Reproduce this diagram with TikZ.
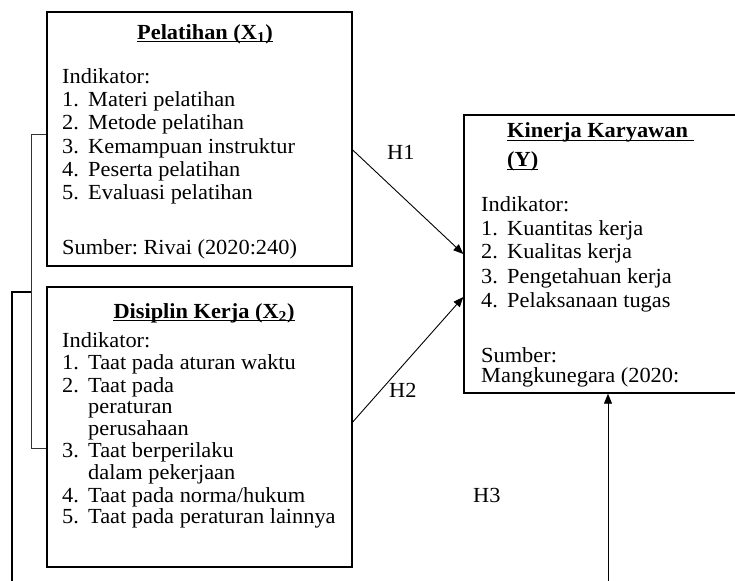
\documentclass[tikz,border=0pt]{standalone}
\usepackage{fontspec}
\setmainfont[FakeStretch=1.04]{Liberation Serif}
\usetikzlibrary{arrows.meta}
\frenchspacing
\begin{document}
\begin{tikzpicture}[x=1bp,y=-1bp,
  box/.style={draw,line width=1.4bp,inner sep=0},
  txt/.style={anchor=base west,inner sep=0,font=\fontsize{21.5bp}{24bp}\selectfont},
  ttl/.style={anchor=base,inner sep=0,font=\fontsize{21.5bp}{24bp}\selectfont\bfseries},
  uline/.style={line width=1bp},
  arr/.style={line width=0.9bp,-{Triangle[length=10bp,width=8bp]}},
  bracket/.style={line width=0.7bp,draw=black!80},
  thickline/.style={line width=1.6bp}]
\useasboundingbox (0,0) rectangle (735,581);
\clip (0,0) rectangle (735,581);

% boxes
\node[box,minimum width=305bp,minimum height=254bp] (x1) at (199.5,139) {};
\node[box,minimum width=305bp,minimum height=280bp] (x2) at (199.5,427) {};
\node[box,minimum width=274bp,minimum height=278bp] (y) at (601,254) {};

% box 1 text
\node[ttl] (t1) at (205,39.5) {Pelatihan (X\textsubscript{1})};
\draw[uline] ([yshift=-2.5bp]t1.base west) -- ([yshift=-2.5bp]t1.base east);
\node[txt] (a0) at (62,83.3) {Indikator:};
\node[txt] (a1n) at (62,106.7) {1.};
\node[txt] (a1) at (88,106.7) {Materi pelatihan};
\node[txt] (a2n) at (62,130) {2.};
\node[txt] (a2) at (88,130) {Metode pelatihan};
\node[txt] (a3n) at (62,153.3) {3.};
\node[txt] (a3) at (88,153.3) {Kemampuan instruktur};
\node[txt] (a4n) at (62,176.7) {4.};
\node[txt] (a4) at (88,176.7) {Peserta pelatihan};
\node[txt] (a5n) at (62,200) {5.};
\node[txt] (a5) at (88,200) {Evaluasi pelatihan};
\node[txt] (as) at (62,254) {Sumber: Rivai (2020:240)};

% box 2 text
\node[ttl] (t2) at (204,318) {Disiplin Kerja (X\textsubscript{2})};
\draw[uline] ([yshift=-2.5bp]t2.base west) -- ([yshift=-2.5bp]t2.base east);
\node[txt] (b0) at (62,347) {Indikator:};
\node[txt] (b1n) at (62,369) {1.};
\node[txt] (b1) at (88,369) {Taat pada aturan waktu};
\node[txt] (b2n) at (62,392) {2.};
\node[txt] (b2) at (88,392) {Taat pada};
\node[txt] (b2b) at (88,413) {peraturan};
\node[txt] (b2c) at (88,435) {perusahaan};
\node[txt] (b3n) at (62,457) {3.};
\node[txt] (b3) at (88,457) {Taat berperilaku};
\node[txt] (b3b) at (88,479) {dalam pekerjaan};
\node[txt] (b4n) at (62,502) {4.};
\node[txt] (b4) at (88,502) {Taat pada norma/hukum};
\node[txt] (b5n) at (62,523) {5.};
\node[txt] (b5) at (88,523) {Taat pada peraturan lainnya};

% box 3 text
\node[txt,font=\fontsize{21.5bp}{24bp}\selectfont\bfseries] (t3) at (507,138) {Kinerja Karyawan};
\draw[uline] ([yshift=-2.5bp]t3.base west) -- ([yshift=-2.5bp,xshift=6bp]t3.base east);
\node[txt,font=\fontsize{21.5bp}{24bp}\selectfont\bfseries] (t3b) at (507,167) {(Y)};
\draw[uline] ([yshift=-2.5bp]t3b.base west) -- ([yshift=-2.5bp]t3b.base east);
\node[txt] (c0) at (481,212) {Indikator:};
\node[txt] (c1n) at (481,235) {1.};
\node[txt] (c1) at (507,235) {Kuantitas kerja};
\node[txt] (c2n) at (481,258) {2.};
\node[txt] (c2) at (507,258) {Kualitas kerja};
\node[txt] (c3n) at (481,283) {3.};
\node[txt] (c3) at (507,283) {Pengetahuan kerja};
\node[txt] (c4n) at (481,307) {4.};
\node[txt] (c4) at (507,307) {Pelaksanaan tugas};
\node[txt] (cs) at (481,362) {Sumber:};
\node[txt] (cs2) at (481,382) {Mangkunegara (2020:};

% connectors
\draw[arr] ([yshift=-11bp]x1.east) -- (y.west);
\node[txt] (h1) at (387,160) {H1};
\draw[arr] ([yshift=5bp]x2.east) -- ([yshift=-43bp]y.west);
\node[txt] (h2) at (389,397) {H2};
\coordinate (h3s) at (608,585);
\draw[arr] (h3s) -- (h3s |- y.south);
\node[txt] (h3) at (473,502) {H3};

% left bracket
\draw[bracket] ([yshift=5bp]x1.west) -- ++(-15,0) coordinate (bk) |- ([yshift=-21bp]x2.west);
\coordinate (ls) at (12,585);
\draw[thickline] (ls) |- (bk |- 0,292);
\end{tikzpicture}
\end{document}
